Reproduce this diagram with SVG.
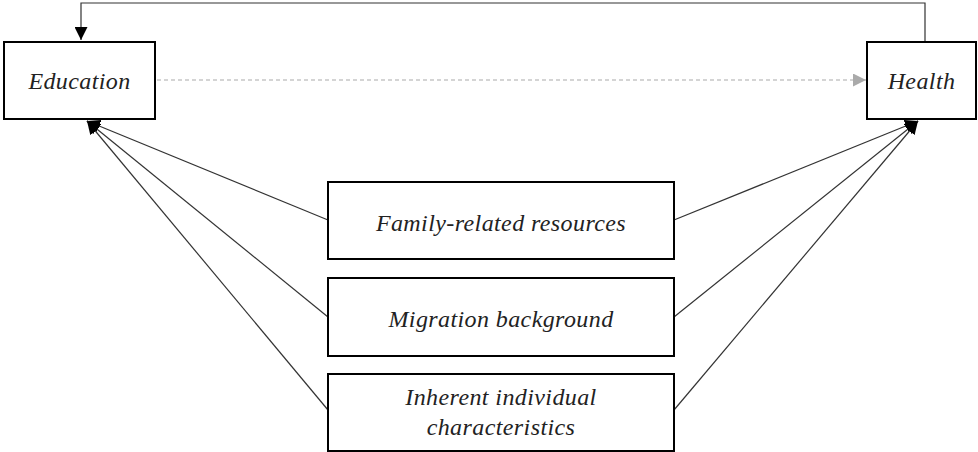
<svg xmlns="http://www.w3.org/2000/svg" width="978" height="452" viewBox="0 0 978 452">
<style>
.box{fill:#fff;stroke:#000;stroke-width:2}
.lbl{font-family:"Liberation Serif","Times New Roman",serif;font-style:italic;font-size:24px;letter-spacing:0.4px;fill:#222;text-anchor:middle}
.ln{stroke:#333;stroke-width:1.2;fill:none}
</style>
<defs>
<marker id="ah" viewBox="0 0 10 10" refX="10" refY="5" markerWidth="13" markerHeight="13" markerUnits="userSpaceOnUse" orient="auto"><path d="M0,0L10,5L0,10z" fill="#000"/></marker>
<marker id="ahg" viewBox="0 0 10 10" refX="10" refY="5" markerWidth="13" markerHeight="13" markerUnits="userSpaceOnUse" orient="auto"><path d="M0,0L10,5L0,10z" fill="#aaa"/></marker>
</defs>
<g id="connectors">
<path class="ln" d="M925,41V3H81V40" marker-end="url(#ah)"/>
<line x1="157" y1="80" x2="866" y2="80" stroke="#aaa" stroke-width="1.2" stroke-dasharray="4,3" marker-end="url(#ahg)"/>
<line class="ln" x1="328" y1="220" x2="87" y2="121" marker-end="url(#ah)"/>
<line class="ln" x1="328" y1="317" x2="87" y2="121" marker-end="url(#ah)"/>
<line class="ln" x1="328" y1="410" x2="87" y2="121" marker-end="url(#ah)"/>
<line class="ln" x1="674" y1="220" x2="918" y2="121" marker-end="url(#ah)"/>
<line class="ln" x1="674" y1="317" x2="918" y2="121" marker-end="url(#ah)"/>
<line class="ln" x1="674" y1="410" x2="918" y2="121" marker-end="url(#ah)"/>
</g>
<g id="education"><rect class="box" x="4" y="42" width="151" height="77"/><text class="lbl" x="79.5" y="89">Education</text></g>
<g id="health"><rect class="box" x="867" y="42" width="109" height="77"/><text class="lbl" x="921.5" y="89">Health</text></g>
<g id="family"><rect class="box" x="328" y="182" width="346" height="77"/><text class="lbl" x="501" y="231">Family-related resources</text></g>
<g id="migration"><rect class="box" x="328" y="278" width="346" height="78"/><text class="lbl" x="501" y="327">Migration background</text></g>
<g id="inherent"><rect class="box" x="328" y="374" width="346" height="77"/><text class="lbl" x="501" y="405">Inherent individual</text><text class="lbl" x="501" y="435">characteristics</text></g>
</svg>
